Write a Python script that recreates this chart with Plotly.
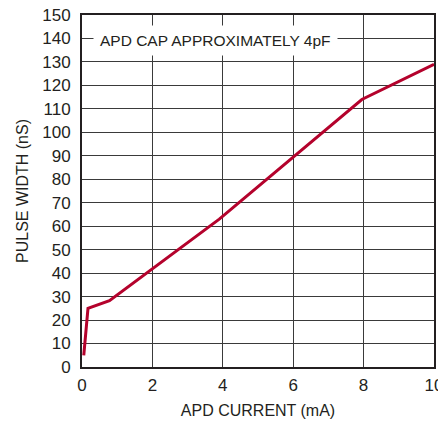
import plotly.graph_objects as go

apd_current_ma = [0.05, 0.17, 0.78, 3.9, 7.95, 10.0]
pulse_width_ns = [5, 25, 28.3, 63, 114, 129]

x_ticks = [0, 2, 4, 6, 8, 10]
y_ticks = list(range(0, 151, 10))

FONT = "Liberation Sans, Arial, sans-serif"

fig = go.Figure()
fig.add_trace(go.Scatter(
    x=apd_current_ma, y=pulse_width_ns, mode="lines",
    line=dict(color="#B4022C", width=3), showlegend=False, hoverinfo="skip"))

fig.update_layout(
    width=438, height=421,
    margin=dict(l=82, r=4, t=15, b=54),
    paper_bgcolor="white", plot_bgcolor="white",
    font=dict(family=FONT, size=17, color="#231F20"),
    xaxis=dict(range=[0, 10], tickvals=x_ticks, ticktext=[str(v) for v in x_ticks],
               showgrid=True, gridcolor="#3a3a3a", gridwidth=1.3,
               showline=True, linecolor="#231F20", linewidth=2, mirror=True,
               zeroline=False, ticks="", ticklabelstandoff=2, ticklabeloverflow="allow",
               automargin=False,
               title=dict(text="APD CURRENT (mA)", standoff=10, font=dict(size=16))),
    yaxis=dict(range=[0, 150], tickvals=y_ticks, ticktext=[str(v) for v in y_ticks],
               showgrid=True, gridcolor="#3a3a3a", gridwidth=1.3,
               showline=True, linecolor="#231F20", linewidth=2, mirror=True,
               zeroline=False, ticks="", ticklabelstandoff=6, ticklabeloverflow="allow",
               automargin=False,
               title=dict(text="PULSE WIDTH (nS)", standoff=10, font=dict(size=16))),
    annotations=[dict(x=0.3, y=139.0, xref="x", yref="y", xanchor="left", yanchor="middle",
                      text="APD CAP APPROXIMATELY 4pF", showarrow=False,
                      bgcolor="white", borderpad=6, font=dict(size=15.5, family=FONT))],
)

fig.write_html("out.html", config={"displayModeBar": False},
               post_script="document.body.style.margin='0';document.body.style.padding='0';")
